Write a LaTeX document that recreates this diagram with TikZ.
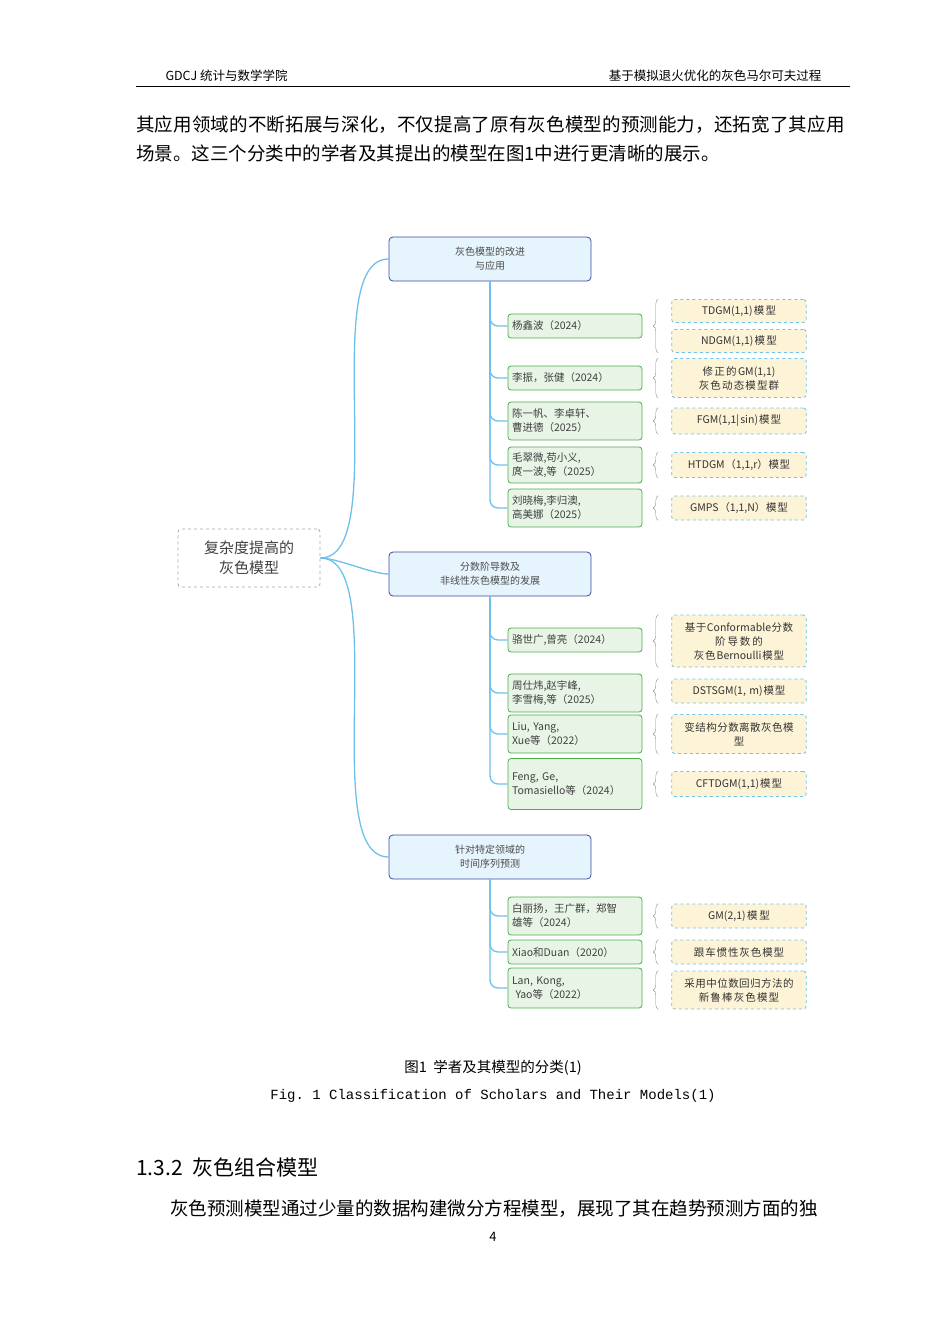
\documentclass[tikz,border=0pt]{standalone}
\usepackage{fontspec}
\setmainfont{Noto Sans CJK SC}
\setmonofont{Liberation Mono}
\XeTeXlinebreaklocale "zh"
\XeTeXlinebreakskip=0pt plus 1pt
\usetikzlibrary{positioning, decorations.pathreplacing}
\definecolor{catfill}{HTML}{E6F4FD}
\definecolor{catline}{HTML}{3A4AA0}
\definecolor{autfill}{HTML}{E8F5E6}
\definecolor{autline}{HTML}{4CAE4C}
\definecolor{modfill}{HTML}{FDF3D6}
\definecolor{modline}{HTML}{6CC4E8}
\definecolor{stem}{HTML}{6EC0EA}
\begin{document}
\begin{tikzpicture}
    [
        x=1pt, y=-1pt,
        root_node/.style={rectangle, rounded corners=3pt, draw=gray!70, dashed, thick, minimum width=142pt, minimum height=58pt, align=center, font=\fontsize{15}{20}\selectfont, text=black!75},
        cat_node/.style={rectangle, rounded corners=4pt, draw=catline, fill=catfill, thick, minimum width=202pt, minimum height=44pt, align=center, font=\fontsize{10}{14}\selectfont, text=black!70},
        aut_node/.style={rectangle, rounded corners=3pt, draw=autline, fill=autfill, thick, minimum width=134pt, text width=126pt, align=left, font=\fontsize{10.5}{14}\selectfont, text=black!75},
        mod_node/.style={rectangle, rounded corners=3pt, draw=modline, fill=modfill, dashed, thick, minimum width=134pt, text width=128pt, align=center, font=\fontsize{10.5}{14}\selectfont, text=black!80},
        stem_line/.style={draw=stem, line width=1.3pt, rounded corners=8pt},
        brace_line/.style={draw=black!45, decorate, decoration={brace, amplitude=5pt}},
    ]
        \useasboundingbox (0,0) rectangle (950,1344);
        % page header and text
        \node[font=\fontsize{12.5}{14}\selectfont, anchor=west] (hl) at (162,76) {GDCJ 统计与数学学院};
        \node[font=\fontsize{12.5}{14}\selectfont, anchor=east] (hr) at (825,76) {基于模拟退火优化的灰色马尔可夫过程};
        \draw[thick] (136,86) -- (850,86);
        \node[font=\fontsize{18.5}{29}\selectfont, anchor=north west, text width=714pt, inner sep=0pt] (par1) at (136,116) {其应用领域的不断拓展与深化，不仅提高了原有灰色模型的预测能力，还拓宽了其应用场景。这三个分类中的学者及其提出的模型在图1中进行更清晰的展示。};
        % root and categories
        \node[root_node] (root) at (249,558) {复杂度提高的\\灰色模型};
        \node[cat_node] (c1) at (490,259) {灰色模型的改进\\与应用};
        \node[cat_node] (c2) at (490,574) {分数阶导数及\\非线性灰色模型的发展};
        \node[cat_node] (c3) at (490,857) {针对特定领域的\\时间序列预测};
        \foreach \c in {c1, c2, c3}
            \draw[stem_line] (root.east) to[out=0, in=180, looseness=0.6] (\c.west);
        % authors
        \node[aut_node, minimum height=24pt] (a1) at (575,326) {杨鑫波（2024）};
        \node[aut_node, minimum height=24pt] (a2) at (575,378) {李振，张健（2024）};
        \node[aut_node, minimum height=38pt] (a3) at (575,421) {陈一帆、李卓轩、\\曹进德（2025）};
        \node[aut_node, minimum height=36pt] (a4) at (575,465) {毛翠微,苟小义,\\庹一波,等（2025）};
        \node[aut_node, minimum height=38pt] (a5) at (575,508) {刘晓梅,李归澳,\\高美娜（2025）};
        \node[aut_node, minimum height=24pt] (a6) at (575,640) {骆世广,曾亮（2024）};
        \node[aut_node, minimum height=38pt] (a7) at (575,693) {周仕炜,赵宇峰,\\李雪梅,等（2025）};
        \node[aut_node, minimum height=38pt] (a8) at (575,734) {Liu, Yang,\\Xue等（2022）};
        \node[aut_node, minimum height=51pt] (a9) at (575,784) {Feng, Ge,\\Tomasiello等（2024）};
        \node[aut_node, minimum height=38pt] (a10) at (575,916) {白丽扬，王广群，郑智\\雄等（2024）};
        \node[aut_node, minimum height=24pt] (a11) at (575,952) {Xiao和Duan（2020）};
        \node[aut_node, minimum height=40pt] (a12) at (575,988) {Lan, Kong,\\\ Yao等（2022）};
        \foreach \a in {a1, a2, a3, a4, a5}
            \draw[stem_line] (c1.south) |- (\a.west);
        \foreach \a in {a6, a7, a8, a9}
            \draw[stem_line] (c2.south) |- (\a.west);
        \foreach \a in {a10, a11, a12}
            \draw[stem_line] (c3.south) |- (\a.west);
        % models
        \node[mod_node, minimum height=23pt] (m1) at (739,311) {TDGM(1,1)模型};
        \node[mod_node, minimum height=23pt] (m2) at (739,341) {NDGM(1,1)模型};
        \node[mod_node, minimum height=39pt] (m3) at (739,378) {修正的GM(1,1)\\灰色动态模型群};
        \node[mod_node, minimum height=26pt] (m4) at (739,421) {FGM(1,1|sin)模型};
        \node[mod_node, minimum height=25pt] (m5) at (739,465) {HTDGM（1,1,r）模型};
        \node[mod_node, minimum height=24pt] (m6) at (739,508) {GMPS（1,1,N）模型};
        \node[mod_node, minimum height=52pt] (m7) at (739,641) {基于Conformable分数\\阶导数的\\灰色Bernoulli模型};
        \node[mod_node, minimum height=24pt] (m8) at (739,691) {DSTSGM(1, m)模型};
        \node[mod_node, minimum height=39pt] (m9) at (739,734) {变结构分数离散灰色模\\型};
        \node[mod_node, minimum height=25pt] (m10) at (739,784) {CFTDGM(1,1)模型};
        \node[mod_node, minimum height=24pt] (m11) at (739,916) {GM(2,1)模型};
        \node[mod_node, minimum height=24pt] (m12) at (739,952) {跟车惯性灰色模型};
        \node[mod_node, minimum height=38pt] (m13) at (739,990) {采用中位数回归方法的\\新鲁棒灰色模型};
        % braces
        \draw[brace_line] ([xshift=-13pt]m2.south west) -- ([xshift=-13pt]m1.north west);
        \foreach \m in {m3, m4, m5, m6, m7, m8, m9, m10, m11, m12, m13}
            \draw[brace_line] ([xshift=-13pt]\m.south west) -- ([xshift=-13pt]\m.north west);
        % caption and following text
        \node[font=\fontsize{14.5}{16}\selectfont] (cap1) at (493,1068) {图1\ \ 学者及其模型的分类(1)};
        \node[font=\ttfamily\fontsize{14}{16}\selectfont] (cap2) at (493,1096) {Fig. 1 Classification of Scholars and Their Models(1)};
        \node[font=\fontsize{21}{24}\selectfont, anchor=west, inner sep=0pt] (sec) at (136,1167) {1.3.2\ \ 灰色组合模型};
        \node[font=\fontsize{18.5}{20}\selectfont, anchor=west, inner sep=0pt] (par2) at (170,1209) {灰色预测模型通过少量的数据构建微分方程模型，展现了其在趋势预测方面的独};
        \node[font=\fontsize{13}{15}\selectfont] (pg) at (493,1237) {4};
    \end{tikzpicture}
\end{document}
